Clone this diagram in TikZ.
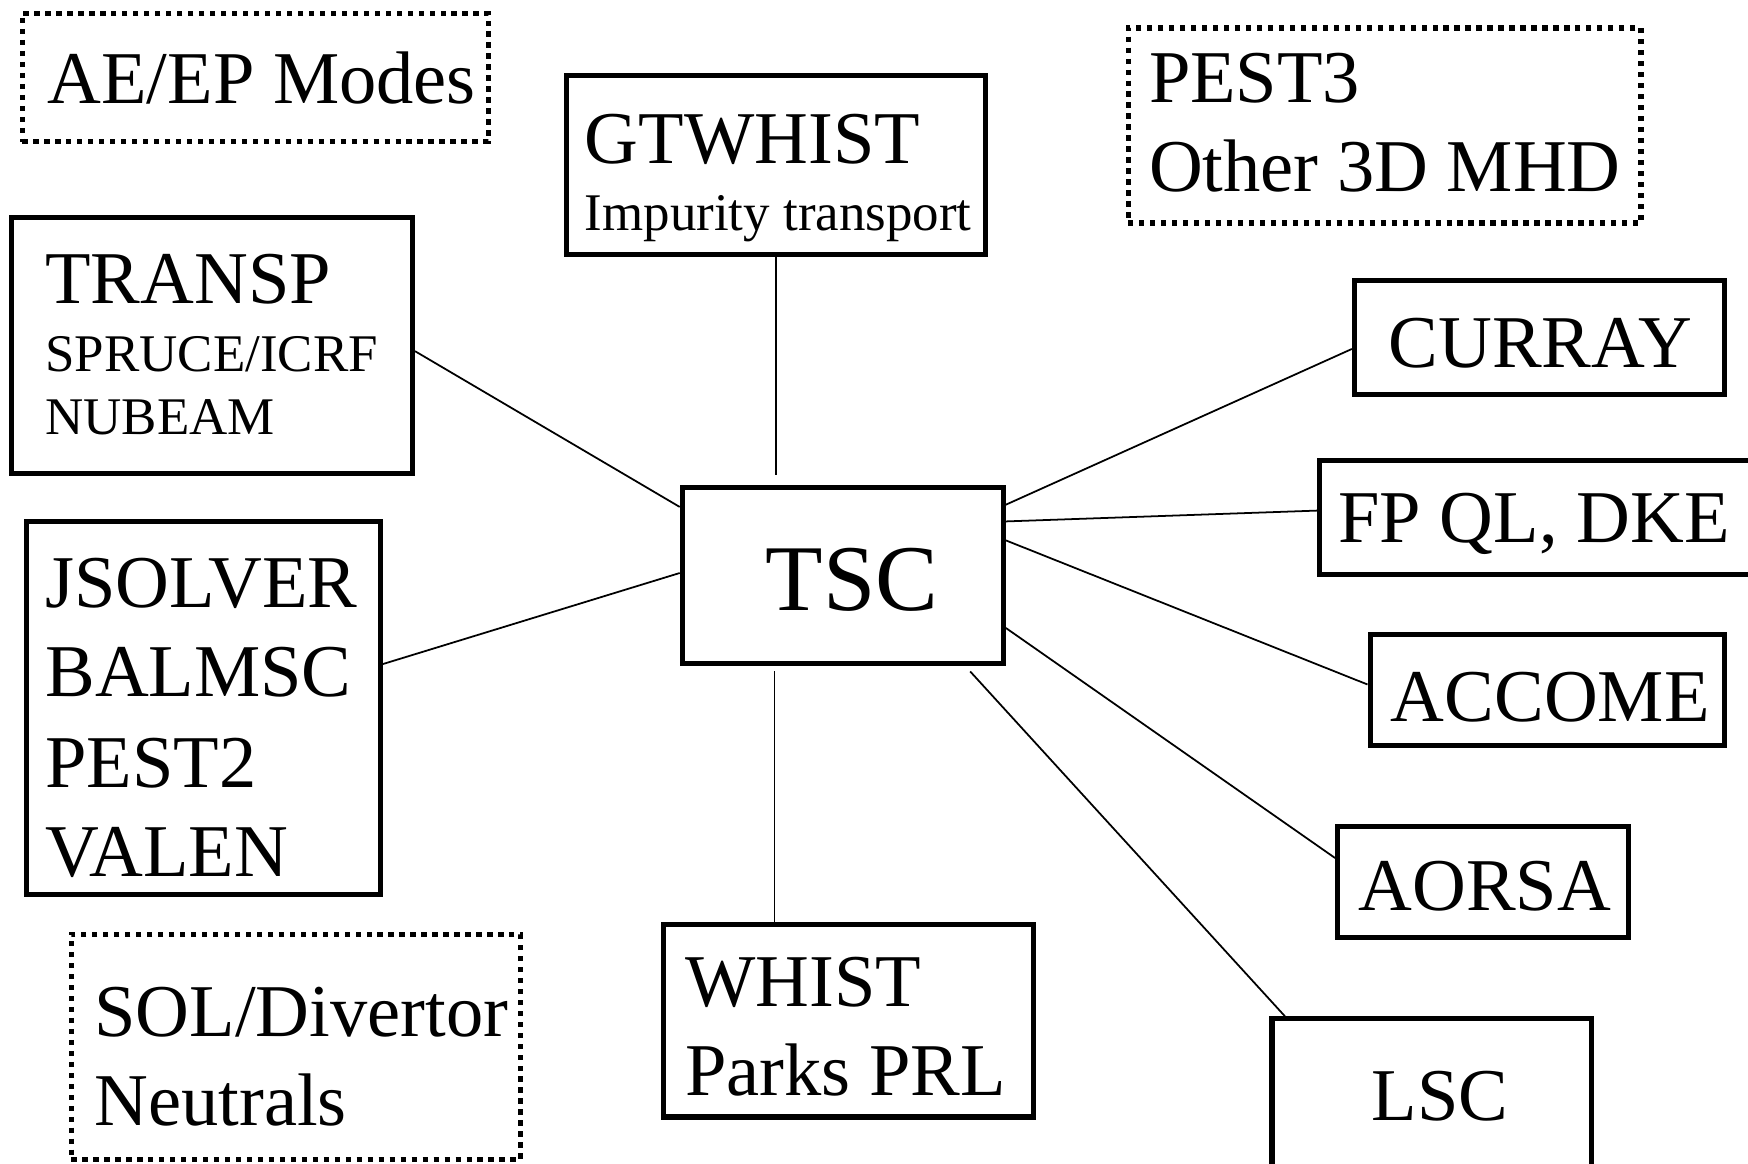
\documentclass[tikz,border=0pt]{standalone}
\usepackage{fontspec}
\setmainfont{Liberation Serif}
\usetikzlibrary{fit,calc}

\tikzset{
  box/.style={draw, line width=1.3pt, inner sep=0pt, rectangle},
  dotbox/.style={draw, line width=1.35pt, dash pattern=on 1.35pt off 1.45pt, inner sep=0pt, rectangle},
  link/.style={line width=0.45pt},
  bigtext/.style={font=\fontsize{19}{22.8}\selectfont, anchor=base west, inner sep=0pt},
  smalltext/.style={font=\fontsize{13.5}{16}\selectfont, anchor=base west, inner sep=0pt},
  hubtext/.style={font=\fontsize{24}{28}\selectfont, anchor=base west, inner sep=0pt}
}

\begin{document}
\begin{tikzpicture}[x=0.01cm, y=-0.01cm]
  \fill[white] (0,0) rectangle (1568,1044);
  \useasboundingbox (0,0) rectangle (1568,1044);

  % frames
  \node[dotbox, fit={(20,12) (438,127)}] (aeep) {};
  \node[box, fit={(508,68) (884,228)}] (gtw) {};
  \node[dotbox, fit={(1012,25) (1472,200)}] (pest) {};
  \node[box, fit={(10,195) (370,425)}] (transp) {};
  \node[box, fit={(24,468) (341,802)}] (jsolver) {};
  \node[dotbox, fit={(64,838) (467,1040)}] (sol) {};
  \node[box, fit={(612,437) (900,595)}] (tsc) {};
  \node[box, fit={(595,829) (927,1002)}] (whist) {};
  \node[box, fit={(1215,252) (1547,354)}] (curray) {};
  \node[box, fit={(1184,413) (1580,515)}] (fp) {};
  \node[box, fit={(1229,569) (1547,669)}] (accome) {};
  \node[box, fit={(1200,741) (1461,841)}] (aorsa) {};
  \node[box, fit={(1141,914) (1428,1060)}] (lsc) {};

  % labels
  \node[bigtext] (aeep-t) at (42,93) {AE/EP Modes};
  \node[bigtext] (gtw-t1) at (524,147) {GTWHIST};
  \node[smalltext] (gtw-t2) at (524,207) {Impurity transport};
  \node[bigtext] (pest-t1) at (1030,92) {PEST3};
  \node[bigtext] (pest-t2) at (1030,172) {Other 3D MHD};
  \node[bigtext] (transp-t1) at (40,272) {TRANSP};
  \node[smalltext] (transp-t2) at (40,333) {SPRUCE/ICRF};
  \node[smalltext] (transp-t3) at (40,390) {NUBEAM};
  \node[bigtext] (js-t1) at (40,545) {JSOLVER};
  \node[bigtext] (js-t2) at (40,625) {BALMSC};
  \node[bigtext] (js-t3) at (40,706) {PEST2};
  \node[bigtext] (js-t4) at (40,786) {VALEN};
  \node[bigtext] (sol-t1) at (84,930) {SOL/Divertor};
  \node[bigtext] (sol-t2) at (84,1010) {Neutrals};
  \node[hubtext] (tsc-t) at (686,548) {TSC};
  \node[bigtext] (whist-t1) at (614,903) {WHIST};
  \node[bigtext] (whist-t2) at (614,983) {Parks PRL};
  \node[bigtext] (curray-t) at (1245,330) {CURRAY};
  \node[bigtext] (fp-t) at (1200,487) {FP QL, DKE};
  \node[bigtext] (accome-t) at (1247,647) {ACCOME};
  \node[bigtext] (aorsa-t) at (1218,817) {AORSA};
  \node[bigtext] (lsc-t) at (1230,1005) {LSC};

  % connectors
  \draw[link] (gtw.south) -- ($(gtw.south |- tsc.north)+(0,-9)$);
  \draw[link] ($(tsc.south west)+(85,5)$) -- ($(whist.north west)+(102,0)$);
  \draw[link] ($(transp.east)+(0,5)$) -- ($(tsc.north west)+(0,20)$);
  \draw[link] ($(jsolver.north east)+(0,130)$) -- ($(tsc.west)+(0,-2)$);
  \draw[link] ($(tsc.north east)+(0,18)$) -- ($(curray.west)+(0,10)$);
  \draw[link] ($(tsc.north east)+(0,33)$) -- ($(fp.west)+(0,-6)$);
  \draw[link] ($(tsc.north east)+(0,50)$) -- ($(accome.west)+(0,-5)$);
  \draw[link] ($(tsc.south east)+(0,-34)$) -- ($(aorsa.north west)+(0,31)$);
  \draw[link] ($(tsc.south east)+(-32,5)$) -- ($(lsc.north west)+(14,0)$);
\end{tikzpicture}
\end{document}
